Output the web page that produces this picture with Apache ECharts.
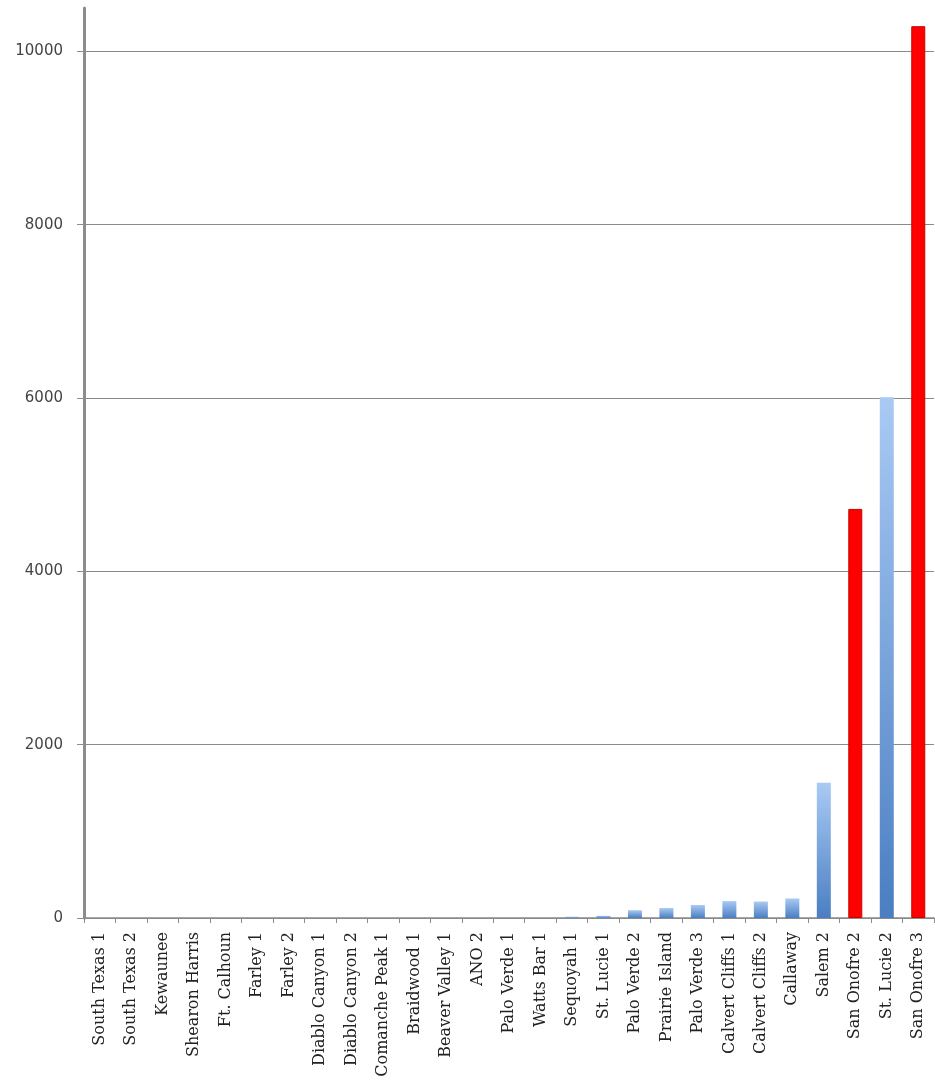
<!DOCTYPE html>
<html>
<head>
<meta charset="utf-8">
<script src="https://cdn.jsdelivr.net/npm/echarts@6/dist/echarts.min.js"></script>
<style>
html,body{margin:0;padding:0;background:#fff;}
#chart{width:935px;height:1088px;}
</style>
</head>
<body>
<div id="chart"></div>
<script>
const categories = ["South Texas 1","South Texas 2","Kewaunee","Shearon Harris","Ft. Calhoun","Farley 1","Farley 2","Diablo Canyon 1","Diablo Canyon 2","Comanche Peak 1","Braidwood 1","Beaver Valley 1","ANO 2","Palo Verde 1","Watts Bar 1","Sequoyah 1","St. Lucie 1","Palo Verde 2","Prairie Island","Palo Verde 3","Calvert Cliffs 1","Calvert Cliffs 2","Callaway","Salem 2","San Onofre 2","St. Lucie 2","San Onofre 3"];
const values = [0,0,0,0,0,0,0,0,0,0,0,0,0,0,0,15,25,90,115,150,195,190,225,1560,4720,6010,10290];
const highlighted = ["San Onofre 2","San Onofre 3"];
const yTicks = [0,2000,4000,6000,8000,10000];

const blueGrad = new echarts.graphic.LinearGradient(0,0,0,1,[
  {offset:0,color:'#a9caf4'},
  {offset:1,color:'#4a7ec2'}
]);
const data = categories.map((c,i)=>{
  if (highlighted.includes(c)) {
    return {value: values[i], itemStyle:{color:'#ff0000', borderColor:'#cc0000', borderWidth:1}};
  }
  return {value: values[i], itemStyle:{color: blueGrad}};
});

const chart = echarts.init(document.getElementById('chart'), null, {renderer:'canvas'});
chart.setOption({
  animation:false,
  backgroundColor:'#ffffff',
  grid:{left:84, right:1, top:8, bottom:170, containLabel:false},
  xAxis:{
    type:'category',
    data:categories,
    boundaryGap:true,
    axisLine:{lineStyle:{color:'#8a8a8a', width:1.5}},
    axisTick:{show:true, length:5, lineStyle:{color:'#8a8a8a'}},
    axisLabel:{rotate:90, interval:0, margin:14, fontFamily:'DejaVu Serif', fontSize:16, color:'#222'}
  },
  yAxis:{
    type:'value',
    min:0, max:10500, interval:2000,
    axisLine:{show:true, lineStyle:{color:'#8c8c8c', width:3}},
    axisTick:{show:true, length:7, lineStyle:{color:'#8c8c8c'}},
    axisLabel:{showMaxLabel:false, margin:21, fontFamily:'DejaVu Sans', fontSize:15, color:'#444',
      formatter:(v)=> yTicks.includes(v) ? String(v) : ''},
    splitLine:{show:true, showMaxLine:false, lineStyle:{color:'#8a8a8a', width:1}}
  },
  series:[{
    type:'bar',
    data:data,
    barWidth:14
  }]
});
</script>
</body>
</html>
